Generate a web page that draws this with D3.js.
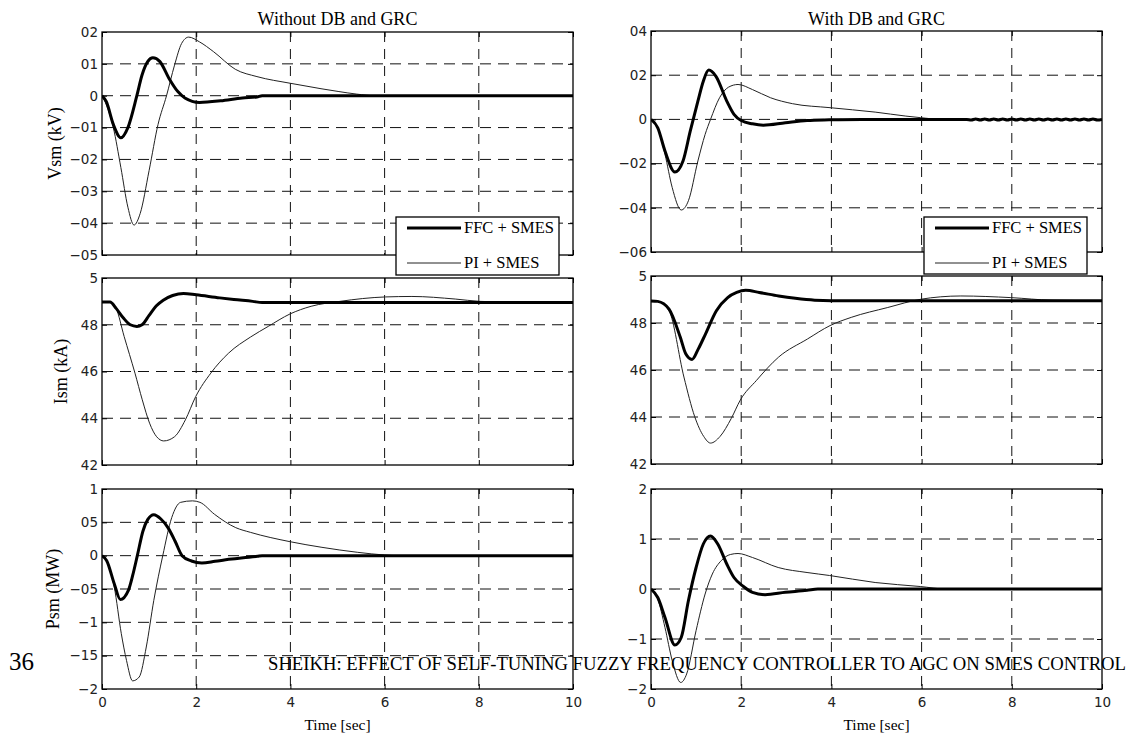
<!DOCTYPE html>
<html>
<head>
<meta charset="utf-8">
<script src="https://cdn.jsdelivr.net/npm/d3@7"></script>
<style>
  body { margin: 0; background: #fff; }
  svg { display: block; }
  .tick text { font-family: "DejaVu Sans", sans-serif; font-size: 13.5px; fill: #222; }
  .serif { font-family: "Liberation Serif", "Times New Roman", Times, serif; fill: #000; }
</style>
</head>
<body>
<div id="chart"></div>
<script>
// Time axis
const timeTicks = [0, 2, 4, 6, 8, 10];
const timeTickLabels = ["0", "2", "4", "6", "8", "10"];

// Tick values and the labels as printed in the figure
const vsmNoDbTicks = [0.2, 0.1, 0, -0.1, -0.2, -0.3, -0.4, -0.5];
const vsmNoDbLabels = ["02", "01", "0", "−01", "−02", "−03", "−04", "−05"];
const vsmDbTicks = [0.4, 0.2, 0, -0.2, -0.4, -0.6];
const vsmDbLabels = ["04", "02", "0", "−02", "−04", "−06"];
const ismTicks = [5, 4.8, 4.6, 4.4, 4.2];
const ismLabels = ["5", "48", "46", "44", "42"];
const psmNoDbTicks = [1, 0.5, 0, -0.5, -1, -1.5, -2];
const psmNoDbLabels = ["1", "05", "0", "−05", "−1", "−15", "−2"];
const psmDbTicks = [2, 1, 0, -1, -2];
const psmDbLabels = ["2", "1", "0", "−1", "−2"];

const seriesNames = ["FFC + SMES", "PI + SMES"];

// [time (s), value]
const vsmNoDbFfc = [[0,0],[0.09,-0.018],[0.24,-0.09],[0.4,-0.132],[0.55,-0.1],[0.74,0],[0.85,0.065],[0.97,0.107],[1.08,0.119],[1.23,0.107],[1.42,0.055],[1.61,0.013],[1.76,-0.007],[2.07,-0.021],[2.52,-0.016],[2.98,-0.007],[3.29,-0.004],[3.4,0],[10,0]];
const vsmNoDbPi = [[0,0],[0.09,-0.028],[0.24,-0.1],[0.4,-0.225],[0.55,-0.35],[0.68,-0.406],[0.81,-0.37],[1.0,-0.235],[1.19,-0.09],[1.37,0],[1.54,0.096],[1.69,0.164],[1.84,0.184],[2.07,0.169],[2.37,0.138],[2.83,0.083],[3.29,0.06],[4.0,0.039],[4.65,0.022],[5.03,0.013],[5.41,0.005],[5.8,0],[10,0]];

const vsmDbFfc = [[0,0],[0.15,-0.038],[0.31,-0.143],[0.53,-0.238],[0.71,-0.188],[0.87,-0.053],[1.04,0.083],[1.16,0.173],[1.28,0.223],[1.44,0.195],[1.68,0.083],[1.84,0.023],[2.0,-0.005],[2.25,-0.02],[2.49,-0.026],[2.98,-0.015],[3.46,-0.005],[3.95,-0.002],[4.68,0],[7.0,0],
  [7.1,-0.003],[7.2,0.002],[7.3,-0.003],[7.4,0.002],[7.5,-0.003],[7.6,0.002],[7.7,-0.003],[7.8,0.002],[7.9,-0.003],[8.0,0.002],[8.1,-0.003],[8.2,0.002],[8.3,-0.003],[8.4,0.002],[8.5,-0.003],[8.6,0.002],[8.7,-0.003],[8.8,0.002],[8.9,-0.003],[9.0,0.002],[9.1,-0.003],[9.2,0.002],[9.3,-0.003],[9.4,0.002],[9.5,-0.003],[9.6,0.002],[9.7,-0.003],[9.8,0.002],[9.9,-0.003],[10,0]];
const vsmDbPi = [[0,0],[0.15,-0.038],[0.31,-0.158],[0.47,-0.308],[0.67,-0.41],[0.83,-0.368],[1.04,-0.188],[1.2,-0.068],[1.32,0],[1.52,0.098],[1.72,0.146],[1.93,0.158],[2.25,0.135],[2.65,0.098],[3.14,0.071],[3.97,0.053],[4.97,0.033],[5.65,0.015],[5.97,0.008],[6.46,0],[10,0]];

const ismNoDbFfc = [[0,4.897],[0.17,4.897],[0.3,4.87],[0.45,4.83],[0.6,4.8],[0.74,4.793],[0.85,4.8],[1.0,4.84],[1.15,4.88],[1.3,4.905],[1.5,4.925],[1.73,4.934],[2.0,4.928],[2.5,4.915],[2.8,4.908],[3.2,4.9],[3.4,4.895],[10,4.895]];
const ismNoDbPi = [[0,4.897],[0.17,4.897],[0.3,4.87],[0.47,4.75],[0.7,4.593],[0.855,4.479],[1.01,4.379],[1.16,4.321],[1.31,4.303],[1.54,4.321],[1.77,4.393],[1.99,4.493],[2.31,4.593],[2.69,4.679],[3.15,4.747],[3.53,4.793],[3.99,4.846],[4.44,4.879],[5.05,4.9],[6.02,4.919],[6.58,4.921],[7.5,4.91],[8.03,4.9],[9.0,4.896],[10,4.895]];

const ismDbFfc = [[0,4.894],[0.15,4.892],[0.4,4.859],[0.65,4.739],[0.77,4.669],[0.91,4.645],[1.05,4.69],[1.21,4.754],[1.45,4.852],[1.7,4.908],[1.9,4.93],[2.1,4.939],[2.4,4.93],[2.83,4.915],[3.2,4.905],[3.63,4.897],[4.0,4.895],[10,4.895]];
const ismDbPi = [[0,4.894],[0.15,4.892],[0.4,4.852],[0.73,4.57],[0.97,4.401],[1.17,4.317],[1.32,4.289],[1.53,4.317],[1.78,4.394],[1.98,4.472],[2.34,4.556],[2.83,4.655],[3.47,4.732],[3.97,4.789],[4.44,4.824],[5.25,4.866],[5.98,4.901],[6.87,4.915],[7.98,4.908],[8.89,4.897],[10,4.895]];

const psmNoDbFfc = [[0,0],[0.1,-0.075],[0.26,-0.42],[0.39,-0.658],[0.56,-0.52],[0.65,-0.3],[0.75,0],[0.87,0.37],[0.97,0.54],[1.1,0.613],[1.25,0.55],[1.4,0.42],[1.55,0.22],[1.7,0],[1.9,-0.08],[2.12,-0.11],[2.4,-0.085],[2.69,-0.055],[3.0,-0.03],[3.3,-0.01],[3.4,0],[10,0]];
const psmNoDbPi = [[0,0],[0.1,-0.08],[0.26,-0.47],[0.41,-1.17],[0.52,-1.57],[0.65,-1.878],[0.79,-1.82],[0.94,-1.37],[1.1,-0.67],[1.29,0],[1.48,0.57],[1.67,0.8],[1.92,0.822],[2.08,0.8],[2.39,0.62],[2.84,0.42],[3.15,0.35],[3.99,0.21],[4.67,0.125],[5.43,0.05],[6.0,0.01],[6.3,0],[10,0]];

const psmDbFfc = [[0,0],[0.15,-0.17],[0.31,-0.57],[0.53,-1.12],[0.67,-0.97],[0.83,-0.23],[1.0,0.43],[1.16,0.9],[1.32,1.06],[1.48,0.9],[1.68,0.5],[1.84,0.23],[2.05,0.05],[2.25,-0.067],[2.53,-0.113],[2.98,-0.067],[3.46,-0.027],[3.7,0],[10,0]];
const psmDbPi = [[0,0],[0.15,-0.2],[0.31,-0.77],[0.47,-1.43],[0.66,-1.87],[0.79,-1.7],[1.0,-0.83],[1.2,-0.1],[1.36,0.3],[1.56,0.57],[1.76,0.69],[1.93,0.71],[2.25,0.63],[2.82,0.43],[3.46,0.33],[3.96,0.27],[4.97,0.13],[5.97,0.05],[6.54,0],[10,0]];

// Page layout
const width = 1131, height = 737;
const cols = [{ x0: 102, x1: 573 }, { x0: 651, x1: 1102 }];
const rows = [[{ y0: 32, y1: 255 }, { y0: 31, y1: 252 }],
              [{ y0: 278, y1: 465 }, { y0: 276, y1: 464 }],
              [{ y0: 489, y1: 689 }, { y0: 489, y1: 689 }]];

const panels = [
  { c: 0, r: 0, ticks: vsmNoDbTicks, labels: vsmNoDbLabels, ffc: vsmNoDbFfc, pi: vsmNoDbPi, yTitle: "Vsm (kV)", yTitleX: 55, title: "Without DB and GRC" },
  { c: 1, r: 0, ticks: vsmDbTicks, labels: vsmDbLabels, ffc: vsmDbFfc, pi: vsmDbPi, title: "With DB and GRC" },
  { c: 0, r: 1, ticks: ismTicks, labels: ismLabels, ffc: ismNoDbFfc, pi: ismNoDbPi, yTitle: "Ism (kA)", yTitleX: 61 },
  { c: 1, r: 1, ticks: ismTicks, labels: ismLabels, ffc: ismDbFfc, pi: ismDbPi },
  { c: 0, r: 2, ticks: psmNoDbTicks, labels: psmNoDbLabels, ffc: psmNoDbFfc, pi: psmNoDbPi, yTitle: "Psm (MW)", yTitleX: 53 },
  { c: 1, r: 2, ticks: psmDbTicks, labels: psmDbLabels, ffc: psmDbFfc, pi: psmDbPi }
];

const svg = d3.select("#chart").append("svg")
  .attr("width", width)
  .attr("height", height);

panels.forEach((p, i) => {
  const box = { ...cols[p.c], ...rows[p.r][p.c] };
  const w = box.x1 - box.x0, h = box.y1 - box.y0;

  const x = d3.scaleLinear().domain([0, 10]).range([0, w]);
  const y = d3.scaleLinear().domain(d3.extent(p.ticks)).range([h, 0]);

  const g = svg.append("g").attr("transform", `translate(${box.x0},${box.y0})`);

  g.append("clipPath").attr("id", `clip${i}`)
    .append("rect").attr("width", w).attr("height", h);

  // Dashed grid
  const grid = g.append("g").attr("stroke", "#111").attr("stroke-width", 1);
  grid.selectAll(".gx").data(timeTicks.slice(1, -1)).join("line")
    .attr("stroke-dasharray", "10,7")
    .attr("x1", d => x(d)).attr("x2", d => x(d)).attr("y1", 0).attr("y2", h);
  grid.selectAll(".gy").data(p.ticks.slice(1, -1)).join("line")
    .attr("stroke-dasharray", "11,7")
    .attr("x1", 0).attr("x2", w).attr("y1", d => y(d)).attr("y2", d => y(d));

  // Curves
  const line = d3.line().x(d => x(d[0])).y(d => y(d[1])).curve(d3.curveMonotoneX);
  const curves = g.append("g").attr("clip-path", `url(#clip${i})`).attr("fill", "none");
  curves.append("path").attr("d", line(p.pi)).attr("stroke", "#222").attr("stroke-width", 1);
  curves.append("path").attr("d", line(p.ffc)).attr("stroke", "#000").attr("stroke-width", 3)
    .attr("stroke-linejoin", "round");

  // Axes with inward ticks
  const labelOf = d => p.labels[p.ticks.indexOf(d)];
  g.append("g")
    .call(d3.axisLeft(y).tickValues(p.ticks).tickFormat(labelOf).tickSizeInner(-5).tickSizeOuter(0).tickPadding(4));
  g.append("g").attr("transform", `translate(${w},0)`)
    .call(d3.axisRight(y).tickValues(p.ticks).tickFormat("").tickSizeInner(-5).tickSizeOuter(0));
  g.append("g")
    .call(d3.axisTop(x).tickValues(timeTicks).tickFormat("").tickSizeInner(-5).tickSizeOuter(0));
  g.append("g").attr("transform", `translate(0,${h})`)
    .call(d3.axisBottom(x).tickValues(timeTicks)
      .tickFormat(p.r === 2 ? (d => timeTickLabels[timeTicks.indexOf(d)]) : "")
      .tickSizeInner(-5).tickSizeOuter(0).tickPadding(8));
  g.selectAll(".domain").remove();
  g.selectAll(".tick line").attr("stroke", "#000");

  g.append("rect").attr("width", w).attr("height", h)
    .attr("fill", "none").attr("stroke", "#000").attr("stroke-width", 1.3);

  if (p.title) {
    svg.append("text").attr("class", "serif")
      .attr("x", box.x0 + w / 2).attr("y", 25)
      .attr("text-anchor", "middle").style("font-size", "18px")
      .text(p.title);
  }
  if (p.yTitle) {
    svg.append("text").attr("class", "serif")
      .attr("transform", `translate(${p.yTitleX},${box.y0 + h / 2}) rotate(-90)`)
      .attr("text-anchor", "middle").attr("dy", "0.33em").style("font-size", "18px")
      .text(p.yTitle);
  }
  if (p.r === 2) {
    svg.append("text").attr("class", "serif")
      .attr("x", box.x0 + w / 2).attr("y", 730)
      .attr("text-anchor", "middle").style("font-size", "15.5px")
      .text("Time [sec]");
  }
});

// Legends
const legendBoxes = [{ x: 396, y: 217, w: 163, h: 58 }, { x: 924, y: 217, w: 163, h: 57 }];
legendBoxes.forEach(b => {
  const lg = svg.append("g").attr("transform", `translate(${b.x},${b.y})`);
  lg.append("rect").attr("width", b.w).attr("height", b.h)
    .attr("fill", "#fff").attr("stroke", "#000").attr("stroke-width", 1.3);
  seriesNames.forEach((name, k) => {
    const ly = 11 + k * 35;
    lg.append("line").attr("x1", 11).attr("x2", 65).attr("y1", ly).attr("y2", ly)
      .attr("stroke", k === 0 ? "#000" : "#222").attr("stroke-width", k === 0 ? 3 : 1);
    lg.append("text").attr("class", "serif")
      .attr("x", 68).attr("y", ly).attr("dy", "0.33em")
      .style("font-size", "16.5px").text(name);
  });
});

// Page footer printed over the figure
svg.append("text").attr("class", "serif")
  .attr("x", 9).attr("y", 670).style("font-size", "25px").text("36");
svg.append("text").attr("class", "serif")
  .attr("x", 268).attr("y", 670).style("font-size", "18px")
  .attr("textLength", 858).attr("lengthAdjust", "spacingAndGlyphs")
  .text("SHEIKH: EFFECT OF SELF-TUNING FUZZY FREQUENCY CONTROLLER TO AGC ON SMES CONTROL");
</script>
</body>
</html>
